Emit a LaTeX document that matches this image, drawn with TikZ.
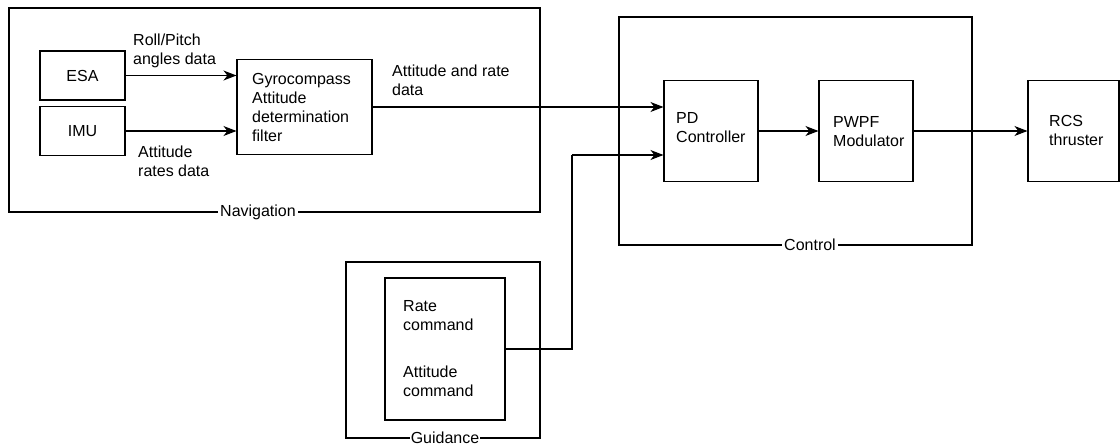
\documentclass[tikz,border=0pt]{standalone}
\usepackage{fontspec}
\setmainfont{Liberation Sans}
\usetikzlibrary{arrows.meta,calc}
\tikzset{
  box/.style={draw, line width=1.1pt, inner sep=0pt},
  grp/.style={draw, line width=1.1pt, inner sep=0pt},
  txt/.style={inner sep=0pt, align=left, font=\fontsize{16pt}{19pt}\selectfont},
  grplabel/.style={fill=white, inner sep=2pt, font=\fontsize{16pt}{19pt}\selectfont},
  arr/.style={line width=1.1pt, -{Stealth[length=13pt,width=10pt,inset=4pt]}},
  conn/.style={line width=1.1pt}
}
\begin{document}
\begin{tikzpicture}[x=1pt,y=-1pt]
\useasboundingbox (0,0) rectangle (1120,447);
% group boxes
\node[grp, minimum width=531pt, minimum height=204pt] (nav) at (274.5,110) {};
\node[grp, minimum width=353pt, minimum height=228pt] (ctrl) at (795.5,131) {};
\node[grp, minimum width=194pt, minimum height=176pt] (guid) at (443,350) {};
% blocks
\node[box, minimum width=85pt, minimum height=49pt] (esa) at (82.5,75.5) {};
\node[txt] at (esa.center) {ESA};
\node[box, minimum width=85pt, minimum height=49pt] (imu) at (82.5,131) {};
\node[txt] at (imu.center) {IMU};
\node[box, minimum width=135pt, minimum height=95pt] (gyro) at (304.5,107) {};
\node[txt, anchor=west] at (252,107.5) {Gyrocompass\\Attitude\\determination\\filter};
\node[box, minimum width=94pt, minimum height=101pt] (pd) at (711,131) {};
\node[txt, anchor=west] at (676,127.5) {PD\\Controller};
\node[box, minimum width=94pt, minimum height=101pt] (pwpf) at (866,131) {};
\node[txt, anchor=west] at (833,131.5) {PWPF\\Modulator};
\node[box, minimum width=91pt, minimum height=101pt] (rcs) at (1073.5,131) {};
\node[txt, anchor=west] at (1049,130.5) {RCS\\thruster};
\node[box, minimum width=120pt, minimum height=142pt] (cmd) at (445,349) {};
\node[txt, anchor=west] at (403,316) {Rate\\command};
\node[txt, anchor=west] at (403,381) {Attitude\\command};
% edge labels
\node[txt, anchor=west] at (133,51) {Roll/Pitch\\angles data};
\node[txt, anchor=west] at (138,161) {Attitude\\rates data};
\node[txt, anchor=west] at (392,80.5) {Attitude and rate\\data};
% group labels
\node[grplabel] at (258,212) {Navigation};
\node[grplabel] at (810,245) {Control};
\node[grplabel, inner sep=1pt] at (445,438) {Guidance};
% connectors
\draw[arr] (esa.east) -- (esa.east -| gyro.west);
\draw[arr] (imu.east) -- (imu.east -| gyro.west);
\draw[arr] (gyro.east) -- (gyro.east -| pd.west);
\draw[arr] (pd.east) -- (pwpf.west);
\draw[arr] (pwpf.east) -- (rcs.west);
\coordinate (bend) at (572,155);
\draw[conn] (cmd.east) -| (bend);
\draw[arr] (bend) -- (bend -| pd.west);
\end{tikzpicture}
\end{document}
